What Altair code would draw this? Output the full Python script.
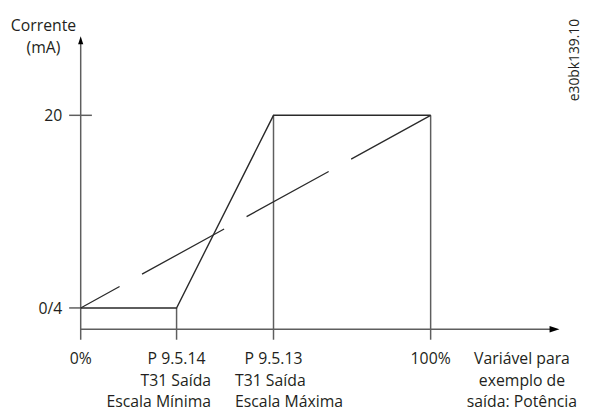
import altair as alt
import pandas as pd

# ---- values ----
x_ticks = [0, 27.4, 55.1, 100]                 # % of output variable
x_first_lines = ["0%", "P 9.5.14", "P 9.5.13", "100%"]
min_label = "T31 Saída\nEscala Mínima"
max_label = "T31 Saída\nEscala Máxima"
var_label = "Variável para\nexemplo de\nsaída: Potência"
var_label_x = 126.1

y_levels = [0, 20]
y_labels = ["0/4", "20"]
y_title = "Corrente\n(mA)"

curve_x = [0, 27.4, 55.1, 100]
curve_y = [0, 0, 20, 20]
dash_x = [0, 100]
dash_y = [0, 20]

axis_x_level = -2.22     # x-axis line (below 0/4)
tick_bottom = -3.3
y_arrow = 27.8
x_arrow = 135.4
x_axis_end = 134.2
y_axis_end = 27.6

code_label = "e30bk139.10"

FONT = "Open Sans"
FS = 16
TXT = "#231f20"
GREY = "#5e5e5e"

xs = alt.Scale(domain=[0, 100], range=[73.7, 428.5], nice=False, zero=False)
ys = alt.Scale(domain=[0, 20], range=[301.3, 106], nice=False, zero=False)

# segments: axes and reference lines
seg = pd.DataFrame({
    "x":  [0, 0, 27.4, 55.1, 100, -3.3, -3.3],
    "x2": [x_axis_end, 0, 27.4, 55.1, 100, 3.2, 0],
    "y":  [axis_x_level, tick_bottom, tick_bottom, tick_bottom, tick_bottom, 20, 0],
    "y2": [axis_x_level, y_axis_end, 0, 20, 20, 20, 0],
})
rules = alt.Chart(seg).mark_rule(color=GREY, strokeWidth=1.5).encode(
    x=alt.X("x:Q", scale=xs, axis=None), x2="x2:Q",
    y=alt.Y("y:Q", scale=ys, axis=None), y2="y2:Q",
)

curve = alt.Chart(pd.DataFrame({"x": curve_x, "y": curve_y, "o": range(4)})).mark_line(
    color="#2a2a2a", strokeWidth=1.4
).encode(x=alt.X("x:Q", scale=xs, axis=None), y=alt.Y("y:Q", scale=ys, axis=None), order="o:Q")

dashed = alt.Chart(pd.DataFrame({"x": dash_x, "y": dash_y})).mark_line(
    color="#2a2a2a", strokeWidth=1.3, strokeDash=[95, 26], strokeDashOffset=50
).encode(x=alt.X("x:Q", scale=xs, axis=None), y=alt.Y("y:Q", scale=ys, axis=None))

arrow_up = alt.Chart(pd.DataFrame({"x": [0], "y": [y_arrow]})).mark_point(
    shape="M0,-1L0.65,1L-0.65,1Z", size=64, filled=True, color="black", opacity=1
).encode(x=alt.X("x:Q", scale=xs, axis=None), y=alt.Y("y:Q", scale=ys, axis=None))

arrow_right = alt.Chart(pd.DataFrame({"x": [x_arrow], "y": [axis_x_level]})).mark_point(
    shape="M1,0L-1,0.65L-1,-0.65Z", size=100, filled=True, color="black", opacity=1
).encode(x=alt.X("x:Q", scale=xs, axis=None), y=alt.Y("y:Q", scale=ys, axis=None))

text_kw = dict(font=FONT, fontSize=FS, color=TXT)

first = alt.Chart(pd.DataFrame({"x": x_ticks, "t": x_first_lines})).mark_text(
    align="center", baseline="alphabetic", **text_kw
).encode(x=alt.X("x:Q", scale=xs, axis=None), y=alt.value(358), text="t:N")

min_t = alt.Chart(pd.DataFrame({"x": [x_ticks[1]], "t": [min_label]})).mark_text(
    align="right", baseline="alphabetic", dx=35, lineBreak="\n", lineHeight=22, **text_kw
).encode(x=alt.X("x:Q", scale=xs, axis=None), y=alt.value(380), text="t:N")

max_t = alt.Chart(pd.DataFrame({"x": [x_ticks[2]], "t": [max_label]})).mark_text(
    align="left", baseline="alphabetic", dx=-39, lineBreak="\n", lineHeight=22, **text_kw
).encode(x=alt.X("x:Q", scale=xs, axis=None), y=alt.value(380), text="t:N")

var_t = alt.Chart(pd.DataFrame({"x": [var_label_x], "t": [var_label]})).mark_text(
    align="center", baseline="alphabetic", lineBreak="\n", lineHeight=22, **text_kw
).encode(x=alt.X("x:Q", scale=xs, axis=None), y=alt.value(358), text="t:N")

ylab = alt.Chart(pd.DataFrame({"y": y_levels, "t": y_labels})).mark_text(
    align="right", baseline="middle", dy=1, **text_kw
).encode(x=alt.value(55), y=alt.Y("y:Q", scale=ys, axis=None), text="t:N")

ytitle = alt.Chart(pd.DataFrame({"t": [y_title]})).mark_text(
    align="center", baseline="alphabetic", lineBreak="\n", lineHeight=22, **text_kw
).encode(x=alt.value(36), y=alt.value(21), text="t:N")

code = alt.Chart(pd.DataFrame({"t": [code_label]})).mark_text(
    align="center", baseline="middle", angle=270, font=FONT, fontSize=14, color=TXT
).encode(x=alt.value(575), y=alt.value(50), text="t:N")

chart = alt.layer(
    rules, curve, dashed, arrow_up, arrow_right, first, min_t, max_t, var_t, ylab, ytitle, code
).properties(
    width=584, height=404, autosize=alt.AutoSizeParams(type="none"), padding=0
).configure_view(stroke=None)

chart.save("out.html", embed_options={"renderer": "svg", "actions": False})
